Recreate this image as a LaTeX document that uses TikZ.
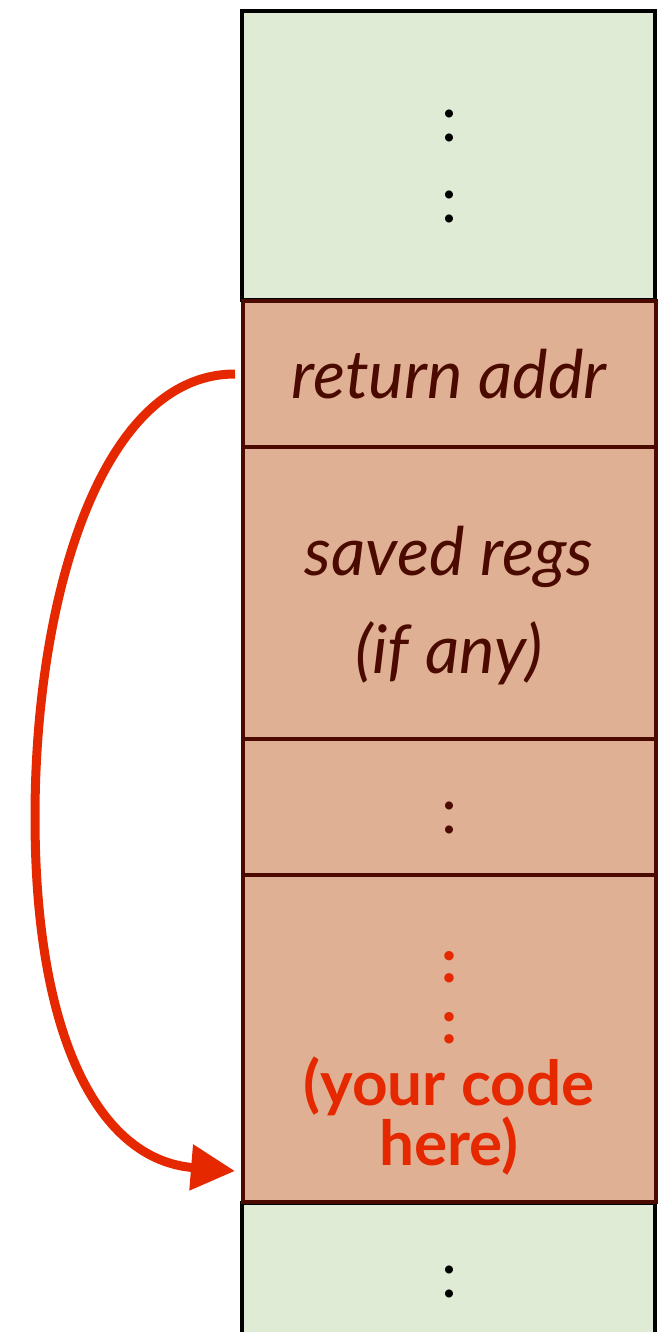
\documentclass[tikz,border=0pt]{standalone}
\usepackage{fontspec}
\setmainfont{Lato}
\usetikzlibrary{arrows.meta,calc}
\definecolor{stackgreen}{HTML}{DFEBD4}
\definecolor{framebrown}{HTML}{E0B094}
\definecolor{darkbrown}{HTML}{4A0A00}
\definecolor{codered}{HTML}{E52800}

\begin{document}
\begin{tikzpicture}[x=0.5pt,y=-0.5pt,
  slot/.style={rectangle, line width=2pt, minimum width=206.5pt, inner sep=0pt, outer sep=0pt},
  greenslot/.style={slot, draw=black, fill=stackgreen},
  brownslot/.style={slot, draw=darkbrown, fill=framebrown},
  frametext/.style={font=\fontsize{33.5}{40}\selectfont\itshape, text=darkbrown, anchor=base, inner sep=0pt},
  plaindots/.style={font=\fontsize{32}{32}\selectfont, anchor=base, inner sep=0pt},
  codetext/.style={font=\fontsize{31}{36}\selectfont\bfseries, text=codered, anchor=base, inner sep=0pt},
  jumparrow/.style={line width=4.5pt, draw=codered, -{Triangle[length=22pt,width=22pt]}}
]
\useasboundingbox (0,0) rectangle (667,1332);
\clip (0,0) rectangle (667,1332);

% caller frame (top) and callee area (bottom)
\node[greenslot, minimum height=144.5pt] (stackTop) at (448.5,155.5) {};
\node[greenslot, minimum height=71pt] (stackBottom) at (448.5,1274) {};

% black outer edge running down the left side of the stack
\draw[line width=1.5pt, black] (stackTop.north west) -- (stackBottom.south west);

% current stack frame
\node[brownslot, minimum height=73pt] (retAddr) at (449.5,374) {};
\node[brownslot, minimum height=146pt] (savedRegs) at (449.5,593) {};
\node[brownslot, minimum height=68pt] (midGap) at (449.5,807) {};
\node[brownslot, minimum height=163.5pt] (yourCode) at (449.5,1038.5) {};

% labels
\node[plaindots, text=black] (topDotsA) at (449,142) {:};
\node[plaindots, text=black] (topDotsB) at (449,222) {:};
\node[frametext] (retLabel) at (449,398) {return addr};
\node[frametext] (savedLabelA) at (449,575) {saved regs};
\node[frametext] (savedLabelB) at (449,673) {(if any)};
\node[plaindots, text=darkbrown] (midDots) at (449,833) {:};
\node[codetext] (codeDotsA) at (449,982) {:};
\node[codetext] (codeDotsB) at (449,1043) {:};
\node[codetext] (codeLabelA) at (449,1105) {(your code};
\node[codetext] (codeLabelB) at (449,1165) {here)};
\node[plaindots, text=black] (bottomDots) at (449,1297) {:};

% return jump
\draw[jumparrow] ($(retAddr.west)+(-8,0)$)
  .. controls (100,374) and (35,600) .. (35,817)
  .. controls (35,1040) and (100,1160) .. ($(yourCode.south west)+(-8,-31)$);
\end{tikzpicture}
\end{document}
